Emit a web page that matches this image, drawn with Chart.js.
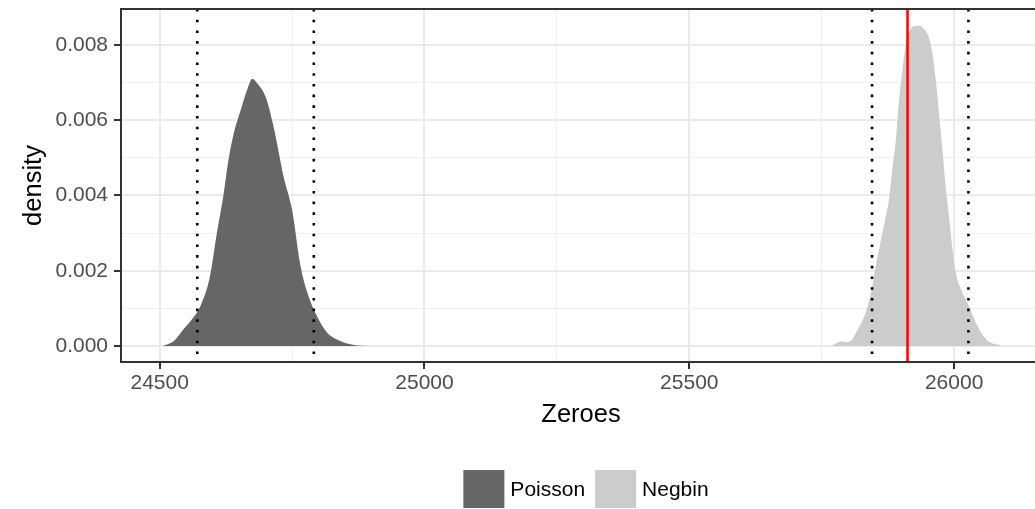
<!DOCTYPE html>
<html lang="en">
<head>
    <meta charset="UTF-8">
    <title>Zeroes density</title>
    <script src="https://cdn.jsdelivr.net/npm/chart.js"></script>
    <style>
        html, body { margin: 0; padding: 0; background: #fff; overflow: hidden; }
        .plot-wrap { width: 1042px; height: 509px; }
    </style>
</head>
<body>
    <div class="plot-wrap">
        <canvas id="zeroesChart" width="1042" height="509"></canvas>
    </div>

    <script>
        // Simulated zero counts: density curves for each model
        const poissonX = [24506, 24527, 24545, 24561, 24577, 24595, 24608, 24621, 24630, 24640, 24653,
                          24665, 24675, 24684, 24700, 24715, 24734, 24750, 24766, 24779, 24797, 24816,
                          24841, 24867, 24892];
        const poissonY = [0, 0.000132, 0.000442, 0.000707, 0.00106, 0.00185, 0.00300, 0.00406, 0.00495,
                          0.00565, 0.00627, 0.00680, 0.00710, 0.00698, 0.00662, 0.00583, 0.00450, 0.00362,
                          0.00212, 0.00141, 0.000795, 0.000355, 0.000132, 0.0000265, 0];

        const negbinX = [25770, 25780, 25786, 25796, 25805, 25818, 25833, 25843, 25852, 25862, 25871,
                         25877, 25884, 25890, 25896, 25903, 25909, 25915, 25925, 25934, 25944, 25953,
                         25959, 25966, 25972, 25978, 25984, 25991, 25997, 26003, 26013, 26022, 26029,
                         26038, 26051, 26066, 26088];
        const negbinY = [0.00002, 0.000089, 0.000116, 0.000107, 0.000133, 0.000442, 0.000884, 0.00141,
                         0.00212, 0.00283, 0.00344, 0.00389, 0.00477, 0.00548, 0.00654, 0.00742, 0.00804,
                         0.00834, 0.00850, 0.00851, 0.00841, 0.00817, 0.00777, 0.00698, 0.00609, 0.00521,
                         0.00424, 0.00336, 0.00256, 0.00195, 0.00150, 0.00124, 0.00102, 0.00071, 0.00035,
                         0.00011, 0.00002];

        // Interval bounds (dotted) and observed value (red)
        const poissonBounds = [24571, 24791];
        const negbinBounds = [25845, 26027];
        const observedZeroes = 25912;

        // Axis ranges and ticks
        const xRange = [24427, 26164];
        const yRange = [-0.000426, 0.008955];
        const xTicks = [24500, 24750, 25000, 25250, 25500, 25750, 26000];
        const xMajor = [24500, 25000, 25500, 26000];
        const yTicks = [0, 0.001, 0.002, 0.003, 0.004, 0.005, 0.006, 0.007, 0.008];
        const yMajor = [0, 0.002, 0.004, 0.006, 0.008];

        const seriesNames = ['Poisson', 'Negbin'];
        const seriesColors = ['#666666', '#CCCCCC'];

        const FONT = '"Liberation Sans", Arial, Helvetica, sans-serif';
        const isMajorX = v => xMajor.includes(v);
        const isMajorY = v => yMajor.some(m => Math.abs(m - v) < 1e-9);

        const toPoints = (xs, ys) => xs.map((x, i) => ({ x: x, y: ys[i] }));

        function vline(x, color, width, dash) {
            return {
                type: 'line',
                data: [{ x: x, y: yRange[1] }, { x: x, y: yRange[0] }],
                borderColor: color,
                borderWidth: width,
                borderDash: dash,
                borderCapStyle: 'butt',
                pointRadius: 0,
                fill: false,
                order: 1
            };
        }

        function densityArea(name, color, xs, ys) {
            return {
                type: 'line',
                label: name,
                legendKey: true,
                data: toPoints(xs, ys),
                backgroundColor: color,
                borderColor: color,
                borderWidth: 0,
                pointRadius: 0,
                fill: 'origin',
                cubicInterpolationMode: 'monotone',
                order: 2
            };
        }

        // keep the panel where the layout puts it, no extra room for edge labels
        function fixAxis(scale, size) {
            if (scale.isHorizontal()) scale.height = size;
            else scale.width = size;
            scale.paddingTop = 0;
            scale.paddingBottom = 0;
            scale.paddingLeft = 0;
            scale.paddingRight = 0;
        }

        const dotted = [2.6, 8.1];

        // Draws the panel outline (right edge falls outside the canvas)
        const panelBorder = {
            id: 'panelBorder',
            afterDatasetsDraw(chart) {
                const a = chart.chartArea;
                const ctx = chart.ctx;
                ctx.save();
                ctx.strokeStyle = '#333333';
                ctx.lineWidth = 2;
                ctx.strokeRect(a.left, a.top, a.right - a.left, a.bottom - a.top);
                ctx.restore();
            }
        };

        // Fill-key legend under the x axis title
        const keyLegend = {
            id: 'keyLegend',
            afterDraw(chart) {
                const ctx = chart.ctx;
                const items = chart.data.datasets.filter(d => d.legendKey);
                const keyW = 41, keyH = 38, textGap = 6, itemGap = 10;
                const centerX = 586, keyTop = 470;
                ctx.save();
                ctx.font = '21px ' + FONT;
                const widths = items.map(d => ctx.measureText(d.label).width);
                const total = widths.reduce((s, w) => s + keyW + textGap + w, 0) + itemGap * (items.length - 1);
                let x = centerX - total / 2;
                ctx.textBaseline = 'middle';
                ctx.textAlign = 'left';
                items.forEach((d, i) => {
                    ctx.fillStyle = d.backgroundColor;
                    ctx.fillRect(x, keyTop, keyW, keyH);
                    ctx.fillStyle = '#000000';
                    ctx.fillText(d.label, x + keyW + textGap, keyTop + keyH / 2 + 1);
                    x += keyW + textGap + widths[i] + itemGap;
                });
                ctx.restore();
            }
        };

        new Chart(document.getElementById('zeroesChart'), {
            type: 'line',
            data: {
                datasets: [
                    vline(poissonBounds[0], '#000000', 2.6, dotted),
                    vline(poissonBounds[1], '#000000', 2.6, dotted),
                    vline(negbinBounds[0], '#000000', 2.6, dotted),
                    vline(negbinBounds[1], '#000000', 2.6, dotted),
                    vline(observedZeroes, '#FF0000', 2.5, []),
                    densityArea(seriesNames[0], seriesColors[0], poissonX, poissonY),
                    densityArea(seriesNames[1], seriesColors[1], negbinX, negbinY)
                ]
            },
            options: {
                responsive: false,
                animation: false,
                layout: { padding: { top: 9, right: 1, bottom: 0, left: 0 } },
                plugins: {
                    legend: { display: false },
                    tooltip: { enabled: false }
                },
                scales: {
                    x: {
                        type: 'linear',
                        min: xRange[0],
                        max: xRange[1],
                        afterBuildTicks: scale => { scale.ticks = xTicks.map(v => ({ value: v })); },
                        afterFit: scale => fixAxis(scale, 147),
                        border: { display: false },
                        grid: {
                            color: ctx => isMajorX(ctx.tick.value) ? '#EBEBEB' : '#F0F0F0',
                            lineWidth: ctx => isMajorX(ctx.tick.value) ? 2 : 1,
                            tickColor: ctx => isMajorX(ctx.tick.value) ? '#333333' : 'rgba(0,0,0,0)',
                            tickWidth: 2,
                            tickLength: 7
                        },
                        ticks: {
                            autoSkip: false,
                            maxRotation: 0,
                            padding: 2,
                            color: '#4D4D4D',
                            font: { family: FONT, size: 21 },
                            callback: v => isMajorX(v) ? String(v) : ''
                        },
                        title: {
                            display: true,
                            text: 'Zeroes',
                            color: '#000000',
                            font: { family: FONT, size: 25.5 },
                            padding: { top: 0, bottom: 79 }
                        }
                    },
                    y: {
                        type: 'linear',
                        min: yRange[0],
                        max: yRange[1],
                        afterBuildTicks: scale => { scale.ticks = yTicks.map(v => ({ value: v })); },
                        afterFit: scale => fixAxis(scale, 121),
                        border: { display: false },
                        grid: {
                            color: ctx => isMajorY(ctx.tick.value) ? '#EBEBEB' : '#F0F0F0',
                            lineWidth: ctx => isMajorY(ctx.tick.value) ? 2 : 1,
                            tickColor: ctx => isMajorY(ctx.tick.value) ? '#333333' : 'rgba(0,0,0,0)',
                            tickWidth: 2,
                            tickLength: 7
                        },
                        ticks: {
                            padding: 6,
                            color: '#4D4D4D',
                            font: { family: FONT, size: 21 },
                            callback: v => isMajorY(v) ? v.toFixed(3) : ''
                        },
                        title: {
                            display: true,
                            text: 'density',
                            color: '#000000',
                            font: { family: FONT, size: 25.5 },
                            padding: { top: 19, bottom: 0 }
                        }
                    }
                }
            },
            plugins: [panelBorder, keyLegend]
        });
    </script>
</body>
</html>
